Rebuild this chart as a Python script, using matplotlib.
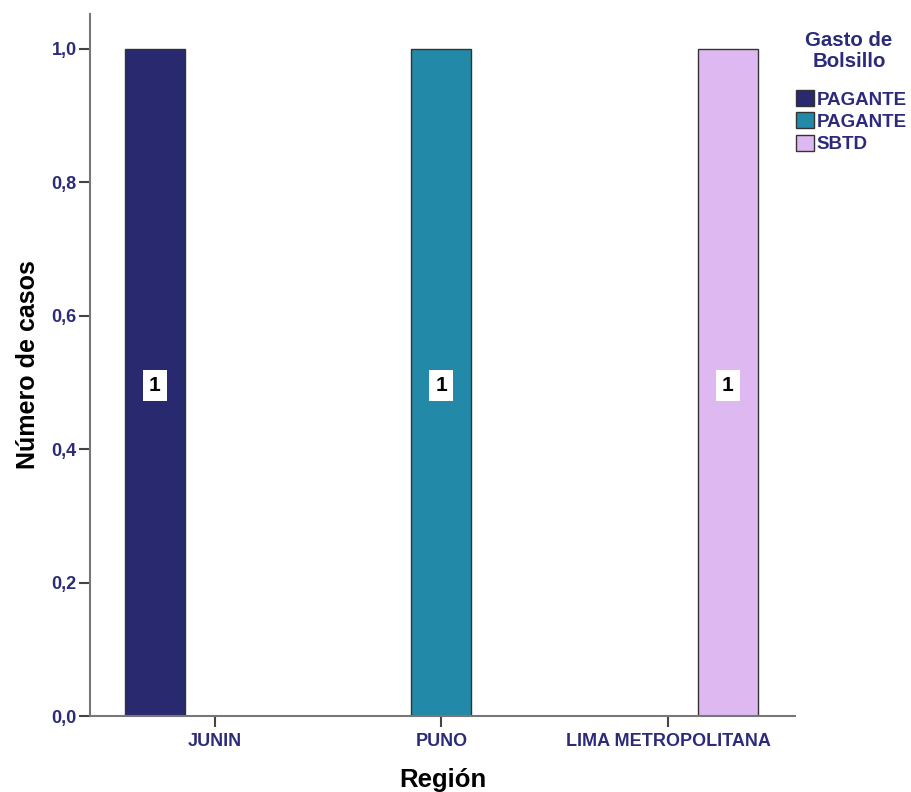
import matplotlib
matplotlib.use("Agg")
import matplotlib.pyplot as plt
from matplotlib.patches import Patch
import numpy as np

plt.rcParams['font.family'] = ['Liberation Sans', 'DejaVu Sans']

categories = ["JUNIN", "PUNO", "LIMA METROPOLITANA"]
series_names = ["PAGANTE", "PAGANTE", "SBTD"]
series_colors = ["#29296F", "#2389A8", "#DEB9F1"]
# counts per series (rows) for each category (columns)
values = [
    [1, 0, 0],
    [0, 1, 0],
    [0, 0, 1],
]
yticks = [0.0, 0.2, 0.4, 0.6, 0.8, 1.0]
ytick_labels = ["0,0", "0,2", "0,4", "0,6", "0,8", "1,0"]
legend_title = "Gasto de\nBolsillo"

navy = "#2B2B7A"
fig = plt.figure(figsize=(9.12, 7.92), dpi=100)
ax = fig.add_axes([90/912, 1-716/792, (795-90)/912, (716-14)/792])

x = np.arange(len(categories))
width = 0.264
offsets = [-width, 0, width]
for i, (name, col) in enumerate(zip(series_names, series_colors)):
    vals = values[i]
    for j, v in enumerate(vals):
        if v > 0:
            ax.bar(x[j] + offsets[i], v, width=width, color=col,
                   edgecolor="#333333", linewidth=1.0, zorder=2)
            ax.text(x[j] + offsets[i], v * 0.495, str(v), ha="center", va="center",
                    fontsize=15, fontweight="bold", color="black", zorder=3,
                    bbox=dict(boxstyle="square,pad=0.3", fc="white", ec="none"))

ax.set_xlim(-0.55, 2.56)
ax.set_ylim(0, 1.052)
ax.set_xticks(x)
ax.set_xticklabels(categories, fontsize=13, fontweight="bold", color=navy)
ax.set_yticks(yticks)
ax.set_yticklabels(ytick_labels, fontsize=13, fontweight="bold", color=navy)
ax.tick_params(axis="both", direction="out", length=8, width=1.5, color="#444444", pad=1.5)
ax.tick_params(axis="x", pad=4)

for s in ["top", "right"]:
    ax.spines[s].set_visible(False)
for s in ["left", "bottom"]:
    ax.spines[s].set_color("#777777")
    ax.spines[s].set_linewidth(1.5)

ax.set_xlabel("Región", fontsize=18.5, fontweight="bold", color="black", labelpad=13)
ax.set_ylabel("Número de casos", fontsize=18, fontweight="bold", color="black", labelpad=8)

fig.text(849/912, 1-31/792, legend_title, ha="center", va="top", fontsize=14.7,
         fontweight="bold", color=navy, linespacing=1.15, multialignment="center")

handles = [Patch(facecolor=c, edgecolor="#333333", linewidth=1.0) for c in series_colors]
leg = fig.legend(handles, series_names, loc="upper left", bbox_to_anchor=(796/912, 1-90/792),
                 frameon=False,
                 prop=dict(size=13.5, weight="bold"), handlelength=0.95, handleheight=0.95,
                 handletextpad=0.15, labelspacing=0.2, borderaxespad=0, borderpad=0)
for t in leg.get_texts():
    t.set_color(navy)

fig.savefig("out.png", dpi=100)
